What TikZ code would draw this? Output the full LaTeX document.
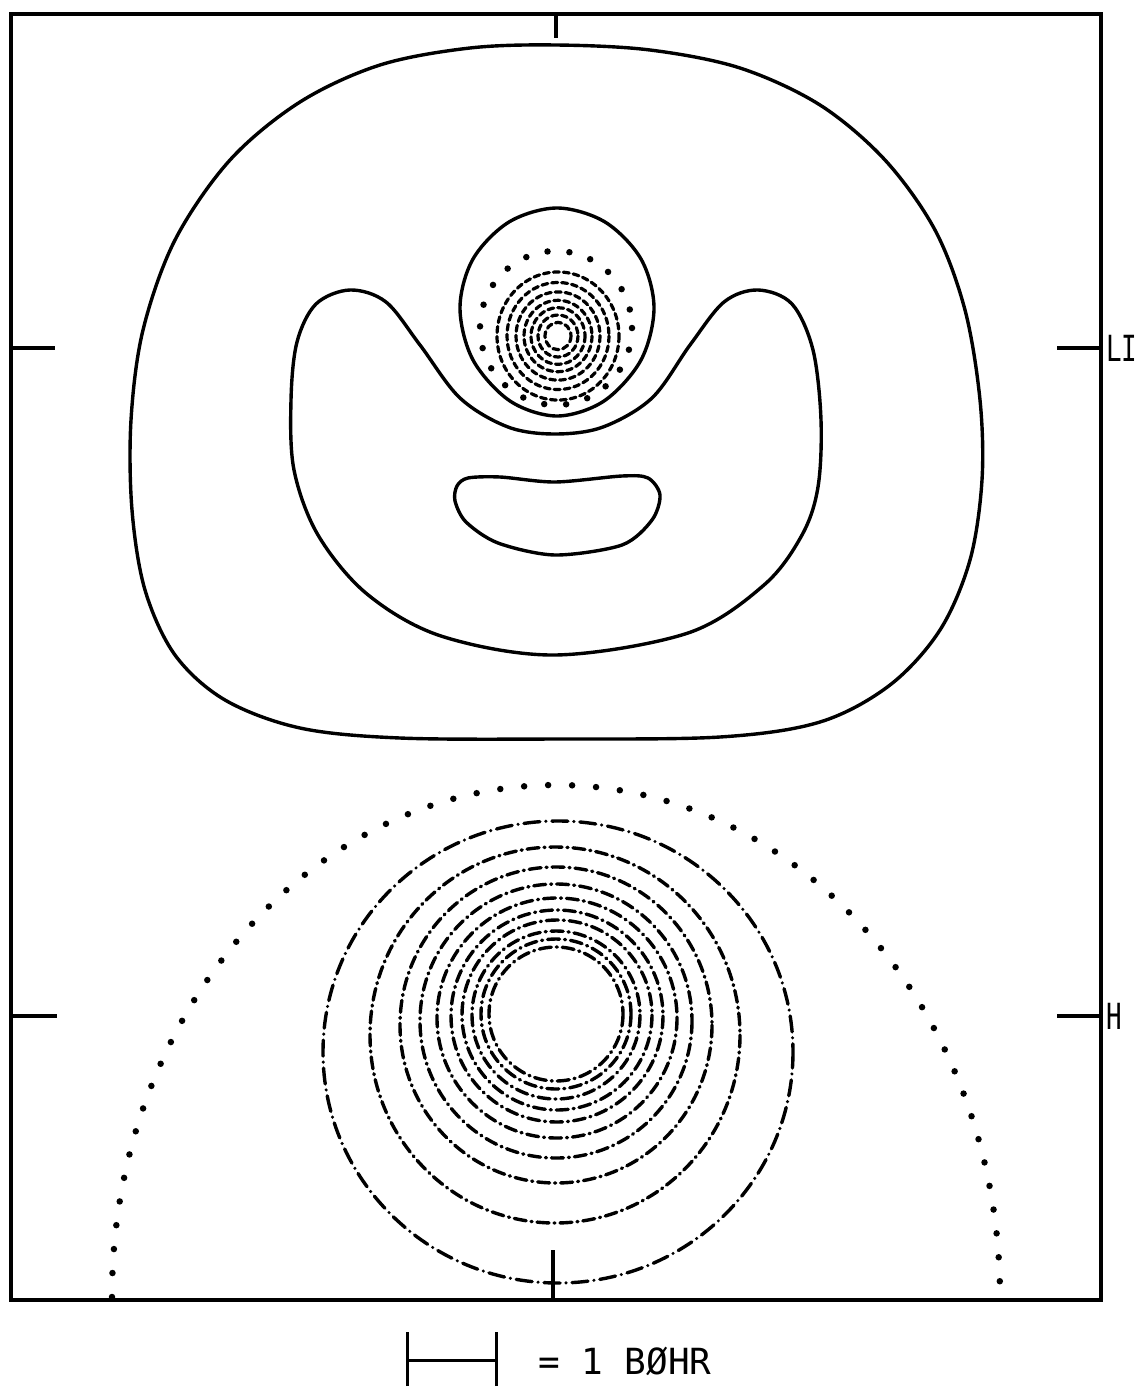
\documentclass[tikz,border=0pt]{standalone}
\usepackage{graphicx}
\usepackage{fontspec}
\newfontfamily\plotfont{DejaVu Sans Mono}
\begin{document}
\begin{tikzpicture}[x=1pt,y=-1pt,
  contour/.style={line width=3.4pt,line join=round},
  dotring/.style={line width=6.5pt,line cap=round,dash pattern=on 0pt off 22pt},
  lidash/.style={line width=3.2pt,line cap=round,dash pattern=on 6pt off 4pt},
  hdashdot/.style={line width=3.4pt,line cap=round,dash pattern=on 16pt off 6pt on 0pt off 6pt},
  hdash/.style={line width=3.4pt,line cap=round,dash pattern=on 12pt off 5pt on 1pt off 5pt},
  frameline/.style={line width=3.4pt},
  lbl/.style={font=\plotfont\fontsize{36}{36}\selectfont,inner sep=0pt}]
\useasboundingbox (0,0) rectangle (1142,1392);
% frame
\draw[frameline] (11,14) rectangle (1101,1300);
% ticks
\draw[frameline] (556,14) -- (556,38);
\draw[frameline] (553,1300) -- (553,1250);
\draw[frameline] (11,348) -- (55,348);
\draw[frameline] (1057,348) -- (1101,348);
\draw[frameline] (11,1016) -- (57,1016);
\draw[frameline] (1057,1016) -- (1101,1016);
\node[lbl,anchor=west] (li) at (1106,348) {\scalebox{0.72}[1]{LI}};
\node[lbl,anchor=west] (h) at (1106,1016) {\scalebox{0.72}[1]{H}};
% outer contour
\draw[contour] plot[smooth cycle,tension=0.55] coordinates {
 (556,45) (650,50) (740,68) (820,105) (885,160) (935,230) (965,310) (980,400)
 (982,480) (970,560) (940,630) (890,685) (820,722) (720,737) (556,739) (400,738)
 (300,728) (225,700) (175,655) (145,590) (132,510) (131,420) (143,330) (175,240)
 (230,160) (300,102) (380,65) (470,48)};
% U contour
\draw[contour] plot[smooth cycle,tension=0.55] coordinates {
 (350,290) (316,304) (297,342) (291,400) (294,470) (318,535) (367,594) (441,636)
 (555,655) (688,633) (764,585) (802,535) (818,487) (821,420) (813,350) (792,304)
 (758,290) (724,302) (690,345) (652,398) (603,427) (555,434) (508,427) (460,398)
 (420,345) (386,302)};
% egg around Li
\draw[contour] plot[smooth cycle,tension=0.55] coordinates {
 (557,208) (605,222) (641,259) (654,308) (641,360) (604,401) (557,416)
 (510,401) (473,360) (460,308) (473,259) (509,222)};
% crescent
\draw[contour] plot[smooth cycle,tension=0.5] coordinates {
 (455,501) (457,486) (468,478) (500,477) (555,482) (622,476) (648,478) (660,495)
 (652,520) (622,545) (555,555) (498,543) (466,522)};
% Li rings
\draw[dotring] (556,328) ellipse[x radius=76,y radius=77];
\foreach \r in {61,51,42,34,27,20,13}{
  \draw[lidash] (558,336) ellipse[x radius=\r,y radius={1.05*\r}];
}
% H region
\draw[dotring,dash pattern=on 0pt off 24pt] (112,1297) arc[start angle=180,end angle=360,x radius=444,y radius=512];
\draw[hdashdot] (558,1052) ellipse[x radius=235,y radius=231];
\draw[hdash] (555,1035) ellipse[x radius=185,y radius=188];
\draw[hdash] (556,1025) ellipse[x radius=156,y radius=158];
\draw[hdash] (556,1021) ellipse[x radius=136,y radius=137];
\draw[hdash] (557,1018) circle[radius=120];
\draw[hdash] (557,1016) circle[radius=106];
\draw[hdash] (557,1015) circle[radius=95];
\draw[hdash] (556,1015) circle[radius=84];
\draw[hdash] (556,1014) circle[radius=75];
\draw[hdash] (556,1014) circle[radius=67];
% scale bar
\coordinate (sbl) at (407,1360);
\coordinate (sbr) at (496,1360);
\draw[line width=3pt] (sbl) -- (sbr);
\draw[line width=3pt] ([yshift=-26pt]sbl) -- ([yshift=28pt]sbl);
\draw[line width=3pt] ([yshift=-26pt]sbr) -- ([yshift=28pt]sbr);
\node[lbl,anchor=west] (scale) at (538,1361) {= 1 BØHR};
\end{tikzpicture}
\end{document}
